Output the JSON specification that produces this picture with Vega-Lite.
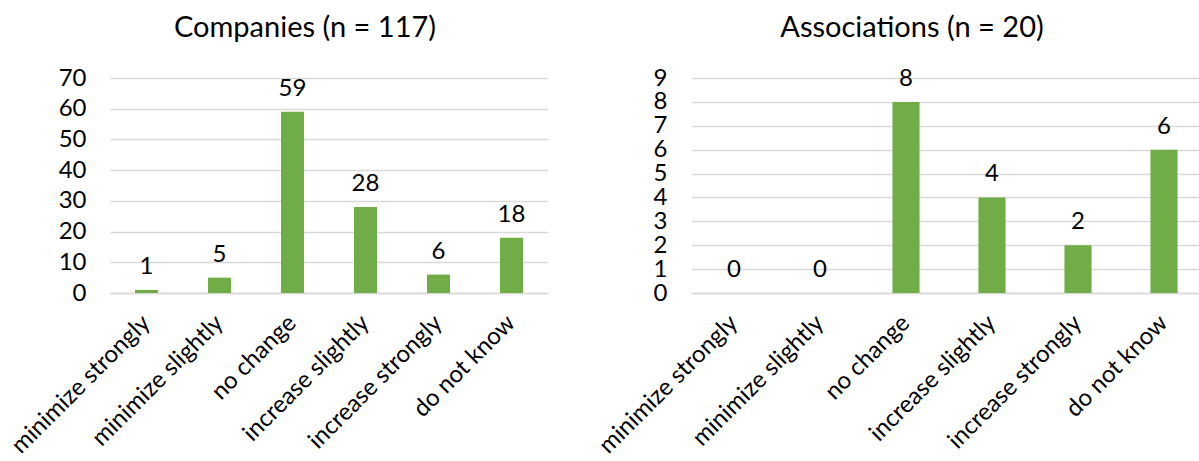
{
  "$schema": "https://vega.github.io/schema/vega-lite/v6.json",
  "background": "white",
  "padding": {"left": 7, "top": 14, "right": 0, "bottom": 0},
  "config": {
    "font": "Lato",
    "view": {"stroke": null},
    "axis": {
      "labelFont": "Lato",
      "labelFontSize": 24,
      "labelColor": "#000000",
      "labelLimit": 400,
      "ticks": false,
      "title": null,
      "domain": false,
      "gridColor": "#d9d9d9",
      "gridWidth": 1.3,
      "labelOverlap": false
    },
    "title": {"font": "Lato", "fontSize": 29, "fontWeight": "normal", "color": "#000000"}
  },
  "datasets": {
    "companies": [
      {"answer": "minimize strongly", "count": 1},
      {"answer": "minimize slightly", "count": 5},
      {"answer": "no change", "count": 59},
      {"answer": "increase slightly", "count": 28},
      {"answer": "increase strongly", "count": 6},
      {"answer": "do not know", "count": 18}
    ],
    "associations": [
      {"answer": "minimize strongly", "count": 0},
      {"answer": "minimize slightly", "count": 0},
      {"answer": "no change", "count": 8},
      {"answer": "increase slightly", "count": 4},
      {"answer": "increase strongly", "count": 2},
      {"answer": "do not know", "count": 6}
    ]
  },
  "bounds": "flush",
  "spacing": 143,
  "hconcat": [
    {
      "title": {"text": "Companies (n = 117)", "dx": -24, "baseline": "alphabetic", "offset": 0},
      "width": 438,
      "height": 215,
      "data": {"name": "companies"},
      "encoding": {
        "x": {
          "field": "answer", "type": "nominal", "sort": null,
          "scale": {"paddingInner": 0, "paddingOuter": 0},
          "axis": {"labelAngle": -45, "labelAlign": "right", "labelBaseline": "middle", "labelPadding": 26,
                   "domain": true, "domainColor": "#d9d9d9", "domainWidth": 1.3, "grid": false}
        },
        "y": {
          "field": "count", "type": "quantitative",
          "scale": {"domain": [0, 70]},
          "axis": {"values": [0, 10, 20, 30, 40, 50, 60, 70], "grid": true, "labelPadding": 24}
        }
      },
      "layer": [
        {"mark": {"type": "bar", "color": "#70AD47", "width": {"band": 0.315}}},
        {"mark": {"type": "text", "baseline": "alphabetic", "dy": -16, "fontSize": 24, "color": "#000000"},
         "encoding": {"text": {"field": "count", "type": "quantitative"}}}
      ]
    },
    {
      "title": {"text": "Associations (n = 20)", "dx": -37, "baseline": "alphabetic", "offset": 0},
      "width": 516,
      "height": 215,
      "data": {"name": "associations"},
      "encoding": {
        "x": {
          "field": "answer", "type": "nominal", "sort": null,
          "scale": {"paddingInner": 0, "paddingOuter": 0},
          "axis": {"labelAngle": -45, "labelAlign": "right", "labelBaseline": "middle", "labelPadding": 26,
                   "domain": true, "domainColor": "#d9d9d9", "domainWidth": 1.3, "grid": false}
        },
        "y": {
          "field": "count", "type": "quantitative",
          "scale": {"domain": [0, 9]},
          "axis": {"values": [0, 1, 2, 3, 4, 5, 6, 7, 8, 9], "grid": true, "labelPadding": 24}
        }
      },
      "layer": [
        {"mark": {"type": "bar", "color": "#70AD47", "width": {"band": 0.315}}},
        {"mark": {"type": "text", "baseline": "alphabetic", "dy": -16, "fontSize": 24, "color": "#000000"},
         "encoding": {"text": {"field": "count", "type": "quantitative"}}}
      ]
    }
  ]
}
